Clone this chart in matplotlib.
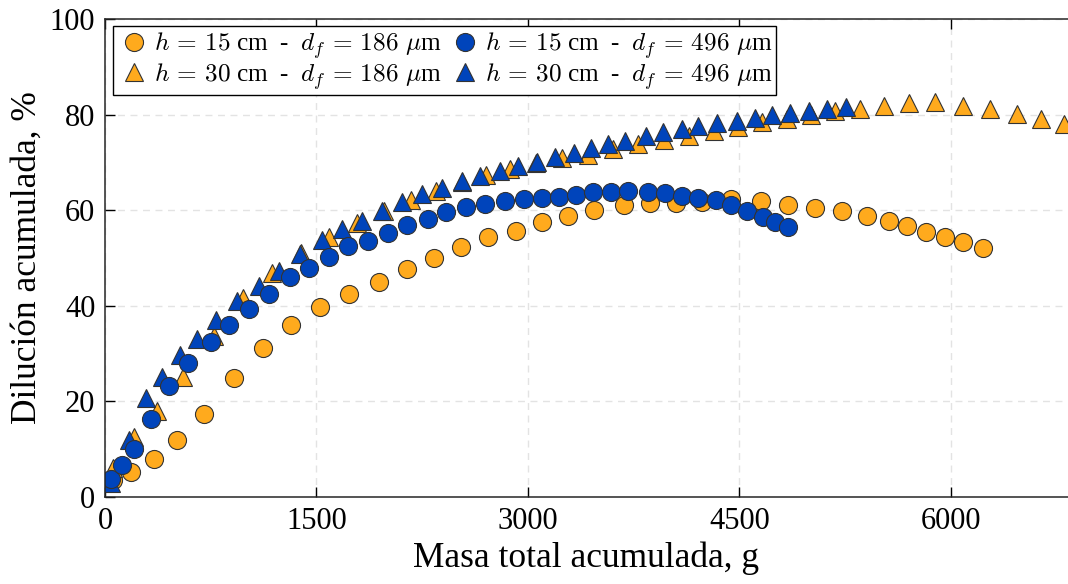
import numpy as np
import matplotlib
matplotlib.use("Agg")
import matplotlib.pyplot as plt

plt.rcParams["font.family"] = ["Liberation Serif", "DejaVu Serif"]
plt.rcParams["mathtext.fontset"] = "cm"

# h = 15 cm, d_f = 186 um (orange circles)
m15_186 = [60, 188, 351, 508, 699, 912, 1118, 1317, 1523, 1729, 1942, 2141, 2333, 2524,
           2716, 2915, 3099, 3284, 3468, 3681, 3866, 4050, 4235, 4441, 4654, 4846, 5037,
           5229, 5406, 5563, 5690, 5825, 5960, 6088, 6230]
d15_186 = [3.6, 5.2, 7.9, 11.9, 17.4, 24.9, 31.2, 36.0, 39.7, 42.5, 45.0, 47.7, 50.0, 52.3,
           54.4, 55.6, 57.5, 58.8, 60.0, 61.1, 61.5, 61.5, 61.7, 62.3, 61.9, 61.1, 60.4,
           59.8, 58.8, 57.7, 56.7, 55.4, 54.4, 53.3, 52.1]

# h = 30 cm, d_f = 186 um (orange triangles)
m30_186 = [60, 209, 366, 550, 770, 976, 1182, 1388, 1587, 1786, 1977, 2169, 2346, 2531,
           2701, 2872, 3056, 3241, 3426, 3603, 3781, 3965, 4143, 4320, 4490, 4661, 4838,
           5009, 5179, 5356, 5527, 5704, 5889, 6088, 6279, 6471, 6641, 6804]
d30_186 = [6.1, 12.6, 18.0, 25.1, 33.7, 41.6, 46.9, 51.0, 54.4, 57.3, 59.8, 62.1, 64.0, 65.9,
           67.4, 68.6, 69.9, 70.9, 71.5, 72.8, 73.8, 74.7, 75.5, 76.6, 77.4, 78.5, 79.1,
           79.9, 80.8, 81.2, 81.8, 82.4, 82.6, 81.8, 81.2, 80.1, 79.1, 78.0]

# h = 15 cm, d_f = 496 um (blue circles)
m15_496 = [46, 124, 209, 323, 451, 586, 749, 877, 1019, 1161, 1310, 1445, 1587, 1722,
           1864, 2006, 2141, 2290, 2418, 2560, 2694, 2836, 2971, 3099, 3220, 3340, 3461,
           3589, 3710, 3852, 3972, 4093, 4206, 4334, 4441, 4555, 4668, 4753, 4846]
d15_496 = [3.8, 6.7, 10.0, 16.3, 23.2, 28.0, 32.4, 36.0, 39.3, 42.5, 46.0, 47.9, 50.2, 52.5,
           53.6, 55.2, 56.9, 58.2, 59.6, 60.7, 61.3, 61.9, 62.3, 62.5, 62.8, 63.2, 63.8,
           63.8, 64.0, 63.8, 63.6, 63.0, 62.6, 62.1, 61.1, 59.8, 58.6, 57.5, 56.5]

# h = 30 cm, d_f = 496 um (blue triangles)
m30_496 = [46, 167, 288, 401, 529, 650, 785, 934, 1090, 1232, 1381, 1537, 1679, 1821,
           1963, 2105, 2247, 2389, 2531, 2659, 2801, 2929, 3064, 3192, 3326, 3447, 3568,
           3688, 3838, 3958, 4093, 4206, 4341, 4483, 4611, 4732, 4860, 4995, 5122, 5257]
d30_496 = [2.9, 11.9, 20.7, 25.1, 29.7, 33.1, 37.0, 41.0, 44.1, 47.3, 50.8, 53.8, 56.1, 57.7,
           59.8, 61.7, 63.4, 64.6, 66.1, 67.2, 68.2, 69.2, 70.1, 71.1, 72.0, 73.0, 73.8,
           74.5, 75.5, 76.4, 77.0, 77.6, 78.2, 78.7, 79.3, 79.9, 80.3, 80.8, 81.2, 81.6]

labels = [
    r"$h\,=\,15$ cm  -  $d_f\,=\,186\ \mu$m",
    r"$h\,=\,30$ cm  -  $d_f\,=\,186\ \mu$m",
    r"$h\,=\,15$ cm  -  $d_f\,=\,496\ \mu$m",
    r"$h\,=\,30$ cm  -  $d_f\,=\,496\ \mu$m",
]

orange = "#FFAA1D"
blue = "#0044BB"
edge = "#333333"

fig = plt.figure(figsize=(10.68, 5.84), dpi=100)
ax = fig.add_axes([0.0983, 0.149, 0.9017, 0.8185])

kw = dict(linestyle="none", markersize=13, markeredgecolor=edge, markeredgewidth=0.8)
h1, = ax.plot(m15_186, d15_186, "o", color=orange, **kw)
h2, = ax.plot(m30_186, d30_186, "^", color=orange, **kw)
h4, = ax.plot(m30_496, d30_496, "^", color=blue, **kw)
h3, = ax.plot(m15_496, d15_496, "o", color=blue, **kw)

ax.set_xlim(0, 6830)
ax.set_ylim(0, 100)
ax.set_xticks([0, 1500, 3000, 4500, 6000])
ax.set_yticks([0, 20, 40, 60, 80, 100])
ax.tick_params(direction="in", top=True, right=False, length=7, width=1,
               labelsize=22, pad=7)
ax.grid(True, linestyle=(0, (5, 4)), color="#e3e3e3", linewidth=1)
ax.set_axisbelow(True)
for s in ["left", "bottom", "top"]:
    ax.spines[s].set_linewidth(1.1)
    ax.spines[s].set_color("#262626")
ax.spines["right"].set_visible(False)

ax.set_xlabel("Masa total acumulada, g", fontsize=25.5, labelpad=4)
ax.set_ylabel("Dilución acumulada, %", fontsize=25.5, labelpad=4)

leg = ax.legend([h1, h2, h3, h4], labels, ncol=2, loc="upper left",
                bbox_to_anchor=(0.008, 0.985), fontsize=18.2, frameon=True,
                fancybox=False, edgecolor="black", framealpha=1,
                handletextpad=0.1, columnspacing=0.2, borderpad=0.15,
                labelspacing=0.0, handlelength=1.4, borderaxespad=0)
leg.get_frame().set_linewidth(1)

fig.savefig("out.png", dpi=100)
